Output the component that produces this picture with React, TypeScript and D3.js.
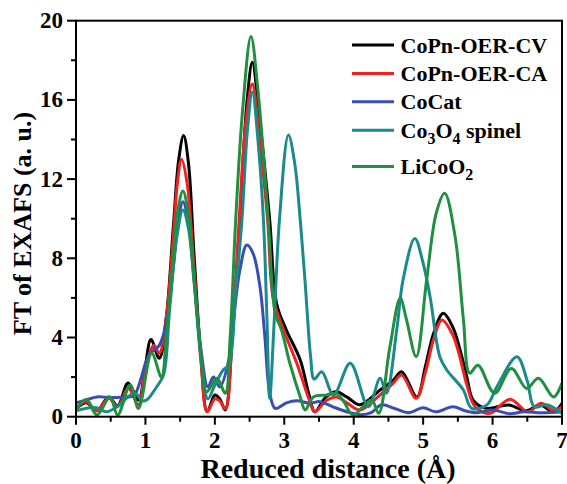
import React from "react";
import * as d3 from "d3";

// ---- Data ----
const xTicks = [0, 1, 2, 3, 4, 5, 6, 7];
const yTicks = [0, 4, 8, 12, 16, 20];

const cpnCV: [number, number][] = [
  [0, 0.4], [0.15, 0.7], [0.3, 0.3], [0.47, 1.0], [0.6, 0.55], [0.75, 1.7], [0.9, 0.84], [1.0, 2.6], [1.08, 3.9], [1.2, 2.95],
  [1.3, 5.0], [1.4, 9.5], [1.48, 13.0], [1.55, 14.2], [1.62, 12.8], [1.7, 8.2], [1.8, 3.0], [1.89, 0.25], [2.0, 1.1], [2.07, 0.9],
  [2.15, 0.34], [2.25, 4.0], [2.36, 9.93], [2.46, 15.8], [2.54, 17.9], [2.63, 15.5], [2.79, 9.93], [2.89, 5.7], [3.03, 4.38],
  [3.23, 2.86], [3.35, 1.2], [3.44, 0.25], [3.6, 1.0], [3.75, 1.26], [3.9, 1.0], [4.09, 0.6], [4.38, 1.35], [4.57, 1.85],
  [4.69, 2.27], [4.91, 1.0], [5.03, 2.5], [5.15, 4.2], [5.29, 5.22], [5.43, 4.5], [5.53, 3.4], [5.63, 2.0], [5.72, 0.84],
  [5.91, 0.42], [6.23, 0.59], [6.49, 0.3], [6.68, 0.59], [6.88, 0.25], [7.0, 0.68],
];

const cpnCA: [number, number][] = [
  [0, 0.45], [0.15, 0.75], [0.3, 0.3], [0.47, 0.95], [0.6, 0.5], [0.75, 1.45], [0.9, 0.6], [1.0, 2.4], [1.12, 3.6], [1.2, 3.2],
  [1.3, 5.0], [1.4, 9.0], [1.46, 11.8], [1.52, 13.0], [1.6, 11.8], [1.7, 7.5], [1.8, 2.8], [1.89, 0.25], [2.0, 0.9], [2.07, 0.8],
  [2.15, 0.4], [2.25, 4.0], [2.35, 9.93], [2.45, 15.0], [2.54, 16.8], [2.63, 14.5], [2.76, 9.93], [2.84, 6.0], [2.99, 4.38],
  [3.18, 2.7], [3.37, 0.76], [3.44, 0.25], [3.6, 0.8], [3.75, 1.0], [3.9, 0.7], [4.09, 0.34], [4.38, 1.1], [4.57, 1.7],
  [4.69, 2.1], [4.9, 0.93], [5.03, 2.2], [5.15, 3.9], [5.27, 4.88], [5.43, 4.1], [5.53, 3.0], [5.63, 1.6], [5.75, 0.5],
  [5.96, 0.17], [6.25, 0.88], [6.51, 0.25], [6.7, 0.68], [6.88, 0.3], [7.0, 0.5],
];

const coCat: [number, number][] = [
  [0, 0.7], [0.15, 0.85], [0.3, 1.0], [0.5, 0.97], [0.7, 1.0], [0.83, 1.05], [0.95, 2.1], [1.0, 2.7], [1.07, 3.2], [1.2, 3.6],
  [1.31, 4.9], [1.4, 7.5], [1.47, 9.8], [1.54, 10.86], [1.62, 9.8], [1.7, 7.0], [1.8, 3.4], [1.9, 1.5], [1.98, 2.0], [2.07, 1.5],
  [2.22, 3.2], [2.27, 4.9], [2.36, 7.4], [2.46, 8.67], [2.55, 8.25], [2.65, 6.56], [2.72, 4.04], [2.79, 1.2], [2.87, 0.42],
  [3.03, 0.7], [3.18, 0.8], [3.37, 0.68], [3.51, 0.76], [3.7, 0.5], [3.9, 0.25], [4.1, 0.1], [4.25, 0.2], [4.4, 0.6], [4.6, 0.4],
  [4.79, 0.2], [5.0, 0.45], [5.18, 0.25], [5.43, 0.5], [5.6, 0.3], [5.77, 0.2], [6.0, 0.34], [6.25, 0.15], [6.45, 0.25],
  [6.7, 0.2], [7.0, 0.25],
];

const co3o4: [number, number][] = [
  [0, 0.3], [0.2, 0.45], [0.3, 0.45], [0.44, 0.25], [0.63, 0.6], [0.75, 1.0], [0.85, 1.2], [0.95, 0.8], [1.02, 0.85], [1.16, 1.5],
  [1.26, 2.1], [1.35, 5.5], [1.45, 9.0], [1.54, 10.44], [1.62, 9.5], [1.7, 6.8], [1.8, 3.0], [1.9, 0.9], [2.0, 1.6], [2.12, 2.36],
  [2.2, 2.6], [2.3, 6.3], [2.39, 9.93], [2.47, 14.5], [2.54, 16.4], [2.62, 14.0], [2.7, 9.93], [2.75, 5.0], [2.79, 0.93],
  [2.85, 4.5], [2.93, 9.93], [3.06, 14.23], [3.15, 12.8], [3.23, 9.93], [3.3, 6.8], [3.38, 3.0], [3.43, 1.9], [3.54, 2.27],
  [3.71, 1.1], [3.95, 2.7], [4.21, 0.5], [4.38, 1.94], [4.47, 1.18], [4.62, 4.4], [4.71, 6.9], [4.88, 9.0], [5.0, 7.75],
  [5.1, 6.06], [5.24, 3.03], [5.34, 2.36], [5.45, 1.9], [5.58, 1.35], [5.7, 0.42], [5.92, 0.6], [6.06, 1.5], [6.35, 3.03],
  [6.5, 1.8], [6.6, 0.5], [6.78, 0.6], [7.0, 0.17],
];

const liCoO2: [number, number][] = [
  [0, 0.3], [0.15, 0.88], [0.3, 0.08], [0.49, 1.0], [0.6, 0.08], [0.78, 1.6], [0.9, 0.42], [1.09, 3.2], [1.23, 2.0], [1.3, 4.0],
  [1.4, 8.0], [1.47, 10.5], [1.54, 11.4], [1.62, 10.2], [1.7, 7.0], [1.8, 3.2], [1.88, 1.26], [2.03, 1.94], [2.15, 1.18],
  [2.22, 4.0], [2.3, 9.93], [2.4, 15.5], [2.52, 19.2], [2.62, 16.5], [2.77, 9.93], [2.87, 5.2], [2.96, 4.38], [3.08, 2.7],
  [3.23, 1.0], [3.3, 0.34], [3.42, 1.0], [3.61, 1.1], [3.75, 1.18], [3.85, 0.8], [3.99, 0.08], [4.13, 0.5], [4.26, 0.84],
  [4.36, 0.17], [4.52, 3.5], [4.67, 5.98], [4.76, 4.9], [4.9, 3.03], [5.05, 6.9], [5.19, 10.3], [5.31, 11.28], [5.46, 9.1],
  [5.58, 4.9], [5.67, 2.2], [5.79, 2.6], [6.03, 1.18], [6.27, 2.44], [6.49, 1.43], [6.66, 1.94], [6.88, 1.0], [7.0, 1.7],
];

type Seg = { text: string; sub?: boolean };
const seriesNames: Seg[][] = [
  [{ text: "CoPn-OER-CV" }],
  [{ text: "CoPn-OER-CA" }],
  [{ text: "CoCat" }],
  [{ text: "Co" }, { text: "3", sub: true }, { text: "O" }, { text: "4", sub: true }, { text: " spinel" }],
  [{ text: "LiCoO" }, { text: "2", sub: true }],
];
const seriesData = [cpnCV, cpnCA, coCat, co3o4, liCoO2];
const seriesColors = ["#000000", "#f0211f", "#3a4db4", "#1b8a8c", "#1f8f40"];

// ---- Layout ----
const W = 567;
const H = 484;
const M = { left: 76, right: 562, top: 20.7, bottom: 416.7 };
const FONT = "'Liberation Serif', 'Times New Roman', Times, serif";

export default function App() {
  const x = d3.scaleLinear().domain([0, 7]).range([M.left, M.right]);
  const y = d3.scaleLinear().domain([0, 20]).range([M.bottom, M.top]);
  const line = d3
    .line<[number, number]>()
    .x((d) => x(d[0]))
    .y((d) => y(d[1]))
    .curve(d3.curveCatmullRom.alpha(0.5));

  const xMinor = d3.range(0.5, 7, 1);
  const yMinor = d3.range(2, 20, 4);

  const legendY = (i: number) => 45 + i * 28.4 + (i === 4 ? 8 : 0);

  return (
    <svg
      width={W}
      height={H}
      style={{ position: "absolute", left: 0, top: 0, background: "#fff" }}
      fontFamily={FONT}
      fontWeight="bold"
    >
      <defs>
        <clipPath id="plotClip">
          <rect x={M.left} y={M.top - 2} width={M.right - M.left} height={M.bottom - M.top + 2} />
        </clipPath>
      </defs>

      {/* series */}
      <g clipPath="url(#plotClip)">
        {seriesData.map((d, i) => (
          <path
            key={i}
            d={line(d) || ""}
            fill="none"
            stroke={seriesColors[i]}
            strokeWidth={3}
            strokeLinejoin="round"
          />
        ))}
      </g>

      {/* frame */}
      <rect
        x={M.left}
        y={M.top}
        width={M.right - M.left}
        height={M.bottom - M.top}
        fill="none"
        stroke="#000"
        strokeWidth={2}
      />

      {/* x ticks */}
      {xTicks.map((t) => (
        <g key={"xt" + t}>
          <line x1={x(t)} x2={x(t)} y1={M.bottom} y2={M.bottom + 8} stroke="#000" strokeWidth={2} />
          <text x={x(t)} y={447.5} textAnchor="middle" fontSize={23}>
            {t}
          </text>
        </g>
      ))}
      {xMinor.map((t) => (
        <line key={"xm" + t} x1={x(t)} x2={x(t)} y1={M.bottom} y2={M.bottom + 5} stroke="#000" strokeWidth={2} />
      ))}

      {/* y ticks */}
      {yTicks.map((t) => (
        <g key={"yt" + t}>
          <line x1={M.left - 9} x2={M.left} y1={y(t)} y2={y(t)} stroke="#000" strokeWidth={2} />
          <text x={63} y={y(t)} textAnchor="end" dominantBaseline="central" fontSize={23}>
            {t}
          </text>
        </g>
      ))}
      {yMinor.map((t) => (
        <line key={"ym" + t} x1={M.left - 5} x2={M.left} y1={y(t)} y2={y(t)} stroke="#000" strokeWidth={2} />
      ))}

      {/* axis titles */}
      <text x={328} y={478} textAnchor="middle" fontSize={28}>
        Reduced distance (Å)
      </text>
      <text
        transform={`translate(31,223.5) rotate(-90)`}
        textAnchor="middle"
        fontSize={26}
      >
        FT of EXAFS (a. u.)
      </text>

      {/* legend */}
      {seriesNames.map((segs, i) => {
        const ly = legendY(i);
        return (
          <g key={"lg" + i}>
            <line x1={352} x2={394} y1={ly} y2={ly} stroke={seriesColors[i]} strokeWidth={3} />
            <text x={400.5} y={ly + 7.5} fontSize={22}>
              {segs.map((s, j) => {
                const prevSub = j > 0 && segs[j - 1].sub;
                const dy = s.sub ? 6 : prevSub ? -6 : 0;
                return (
                  <tspan key={j} dy={dy} fontSize={s.sub ? 16 : 22}>
                    {s.text}
                  </tspan>
                );
              })}
            </text>
          </g>
        );
      })}
    </svg>
  );
}
